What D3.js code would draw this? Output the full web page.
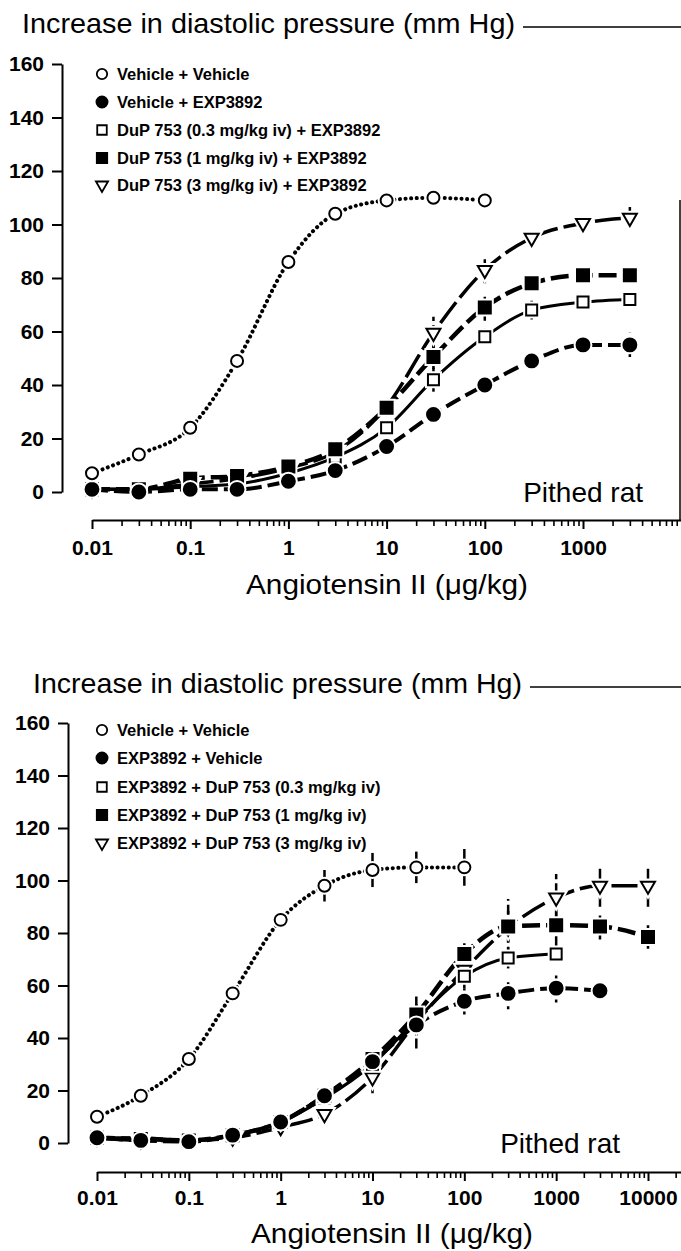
<!DOCTYPE html>
<html>
<head>
<meta charset="utf-8">
<script src="https://cdn.jsdelivr.net/npm/d3@7"></script>
<style>
  body { margin: 0; background: #fff; }
  svg { display: block; }
</style>
</head>
<body>
<svg id="chart" width="681" height="1251"></svg>
<script>
// === DATA ===
const yTicks = [0, 20, 40, 60, 80, 100, 120, 140, 160];

// top panel: DuP 753 (or vehicle) first, then EXP3892
const topDoses = [0.01, 0.03, 0.1, 0.3, 1, 3, 10, 30, 100, 300, 1000, 3000];
const topXTicks = [0.01, 0.1, 1, 10, 100, 1000];
const topXTickLabels = ["0.01", "0.1", "1", "10", "100", "1000"];
const topLegend = [
  "Vehicle + Vehicle",
  "Vehicle + EXP3892",
  "DuP 753 (0.3 mg/kg iv) + EXP3892",
  "DuP 753 (1 mg/kg iv) + EXP3892",
  "DuP 753 (3 mg/kg iv) + EXP3892"
];
const topVehVeh    = [7, 14, 24, 49, 86, 104, 109, 110, 109];
const topVehVehErr = [0.5, 1, 2.5, 2.5, 3, 2, 1, 1, 1];
const topVehExp    = [1, 0, 1, 1, 4, 8, 17, 29, 40, 49, 55, 55];
const topVehExpErr = [0, 0, 0, 0, 0, 1, 1.5, 1.5, 2, 2, 1.5, 4.5];
const topDup03     = [1, 1, 2, 3, 7, 13, 24, 42, 58, 68, 71, 72];
const topDup03Err  = [0, 0, 0, 0, 0, 1, 2, 4.5, 3, 3.5, 2.5, 3];
const topDup1      = [1, 1, 5, 6, 9.5, 16, 31.5, 50.5, 69, 78, 81, 81];
const topDup1Err   = [0, 0, 2, 1, 1, 2, 2, 4.5, 5, 3, 2, 2];
const topDup3      = [1, 1, 3, 5, 9, 15, 32, 59.5, 83, 95, 100.5, 102.5];
const topDup3Err   = [0, 0, 0, 0, 0, 1, 2, 6, 5, 2, 2, 4];

// bottom panel: EXP3892 (or vehicle) first, then DuP 753
const botDoses = [0.01, 0.03, 0.1, 0.3, 1, 3, 10, 30, 100, 300, 1000, 3000, 10000];
const botXTicks = [0.01, 0.1, 1, 10, 100, 1000, 10000];
const botXTickLabels = ["0.01", "0.1", "1", "10", "100", "1000", "10000"];
const botLegend = [
  "Vehicle + Vehicle",
  "EXP3892 + Vehicle",
  "EXP3892 + DuP 753 (0.3 mg/kg iv)",
  "EXP3892 + DuP 753 (1 mg/kg iv)",
  "EXP3892 + DuP 753 (3 mg/kg iv)"
];
const botVehVeh    = [10, 18, 32, 57, 85, 98, 104, 105, 105];
const botVehVehErr = [1, 1, 1.5, 2, 3, 6, 6.5, 6, 7];
const botExpVeh    = [2, 1, 0.5, 3, 8, 18, 31, 45, 54, 57, 59, 58];
const botExpVehErr = [0, 0, 0, 0.5, 1, 2, 3, 4, 5, 6, 5.5, 0];
const botDup03     = [2, 2, 1, 3, 8, 17, 30, 47, 63.5, 70.5, 72];
const botDup03Err  = [0, 0, 0, 0, 0, 1, 2, 4, 3, 4, 2];
const botDup1      = [2, 1.5, 1, 3, 8, 18, 32, 49, 72, 82.5, 83, 82.5, 78.5];
const botDup1Err   = [0, 0, 0, 0, 0, 1, 2, 4, 5, 6, 8, 5, 4.5];
const botDup3      = [2, 1, 1, 2, 6, 11, 25, 46, 66, 82, 93.5, 98, 98];
const botDup3Err   = [0, 0, 0, 0, 0, 2, 6, 10, 7, 11, 9, 8, 8];

// === STYLES ===
const font = "'Liberation Sans', Arial, Helvetica, sans-serif";
const markerStyle = {
  oc:  { type: d3.symbolCircle,   size: 113, fill: "#fff", rot: 0 },
  fc:  { type: d3.symbolCircle,   size: 130, fill: "#000", rot: 0 },
  os:  { type: d3.symbolSquare,   size: 121, fill: "#fff", rot: 0 },
  fs:  { type: d3.symbolSquare,   size: 144, fill: "#000", rot: 0 },
  tri: { type: d3.symbolTriangle, size: 85,  fill: "#fff", rot: 180 }
};
const lineStyle = {
  oc:  { w: 4,   dash: "0.1 5.5", cap: "round", errDash: null },
  fc:  { w: 4,   dash: "16 6",  cap: "butt",  errDash: "3 5" },
  os:  { w: 3,   dash: null,    cap: "butt",  errDash: null },
  fs:  { w: 4.5, dash: "18 6",  cap: "butt",  errDash: "10 4" },
  tri: { w: 3.5, dash: "26 6",  cap: "butt",  errDash: "10 4" }
};
const legendKinds = ["oc", "fc", "os", "fs", "tri"];

const svg = d3.select("#chart");

function drawPanel(p) {
  const g = svg.append("g");
  const x = d3.scaleLog().domain([0.01, p.xRef]).range([p.x0, p.x1]);
  const y = d3.scaleLinear().domain([0, 160]).range([p.y0, p.y1]);

  // title with trailing rule
  g.append("text")
    .attr("x", p.titleX).attr("y", p.titleY)
    .attr("font-family", font).attr("font-size", 28)
    .attr("textLength", p.titleLen).attr("lengthAdjust", "spacingAndGlyphs")
    .text("Increase in diastolic pressure (mm Hg)");
  g.append("line")
    .attr("x1", p.titleX + p.titleLen + 8).attr("x2", 681)
    .attr("y1", p.titleY - 6).attr("y2", p.titleY - 6)
    .attr("stroke", "#000").attr("stroke-width", 1.5);

  // y axis
  const yAxis = g.append("g")
    .attr("transform", `translate(${p.yAxisX},0)`)
    .call(d3.axisLeft(y).tickValues(yTicks).tickSize(10).tickSizeOuter(0).tickPadding(8));
  yAxis.select(".domain").attr("stroke-width", 2);
  yAxis.selectAll(".tick line").attr("stroke-width", 2);
  yAxis.selectAll(".tick text")
    .attr("font-family", font).attr("font-size", 21).attr("font-weight", "bold").attr("fill", "#000");

  // x axis (log, minor ticks), running off the right edge
  const xa = x.copy().domain([0.01, x.invert(681)]).range([p.x0, 681]);
  const ticks = [];
  for (let e = -2; e <= 4; e++) {
    for (let k = 1; k <= 9; k++) {
      const v = k * Math.pow(10, e);
      if (xa(v) <= 679) ticks.push(v);
    }
  }
  const majorIndex = d => p.xTicks.findIndex(m => Math.abs(Math.log10(m) - Math.log10(d)) < 1e-9);
  const xAxis = g.append("g")
    .attr("transform", `translate(0,${p.xAxisY})`)
    .call(d3.axisBottom(xa).tickValues(ticks).tickSize(6).tickSizeOuter(0)
      .tickFormat(d => { const i = majorIndex(d); return i >= 0 ? p.xTickLabels[i] : ""; }));
  xAxis.select(".domain").attr("stroke-width", 2);
  xAxis.selectAll(".tick line").attr("stroke-width", 1.6)
    .filter(d => majorIndex(d) >= 0).attr("y2", 9).attr("stroke-width", 2);
  xAxis.selectAll(".tick text")
    .attr("font-family", font).attr("font-size", 21).attr("font-weight", "bold").attr("fill", "#000")
    .attr("y", p.xLabelY).attr("dy", 0);

  g.append("text")
    .attr("x", p.xTitleX).attr("y", p.xTitleY).attr("text-anchor", "middle")
    .attr("font-family", font).attr("font-size", 28)
    .attr("textLength", p.xTitleLen).attr("lengthAdjust", "spacingAndGlyphs")
    .text("Angiotensin II (μg/kg)");

  g.append("text")
    .attr("x", p.ratX).attr("y", p.ratY).attr("text-anchor", "end")
    .attr("font-family", font).attr("font-size", 28)
    .text("Pithed rat");

  // legend
  const leg = g.append("g");
  p.legend.forEach((label, i) => {
    const ms = markerStyle[legendKinds[i]];
    leg.append("path")
      .attr("transform", `translate(102,${p.legendY[i]}) rotate(${ms.rot})`)
      .attr("d", d3.symbol().type(ms.type).size(ms.size * 0.75)())
      .attr("fill", ms.fill).attr("stroke", "#000").attr("stroke-width", 1.8);
    leg.append("text")
      .attr("x", 117).attr("y", p.legendY[i]).attr("dy", "0.36em")
      .attr("font-family", font).attr("font-size", 16.5).attr("font-weight", "bold")
      .text(label);
  });

  const line = d3.line().x(d => x(d.dose)).y(d => y(d.v)).curve(d3.curveMonotoneX);

  const series = p.series.map(s => ({
    kind: s.kind,
    pts: s.values.map((v, i) => ({ dose: p.doses[i], v: v, e: s.err[i] }))
  }));

  // curves and error bars first
  series.forEach(s => {
    const ls = lineStyle[s.kind];
    g.append("path").datum(s.pts)
      .attr("d", line).attr("fill", "none").attr("stroke", "#000")
      .attr("stroke-width", ls.w).attr("stroke-linecap", ls.cap)
      .attr("stroke-dasharray", ls.dash);
    g.append("g").selectAll("line")
      .data(s.pts.filter(d => d.e > 0))
      .join("line")
      .attr("x1", d => x(d.dose)).attr("x2", d => x(d.dose))
      .attr("y1", d => y(d.v - d.e)).attr("y2", d => y(d.v + d.e))
      .attr("stroke", "#000").attr("stroke-width", 2.5)
      .attr("stroke-dasharray", ls.errDash);
  });

  // markers with a white halo
  series.forEach(s => {
    const ms = markerStyle[s.kind];
    const sym = d3.symbol().type(ms.type).size(ms.size);
    const mg = g.append("g");
    mg.selectAll("path.halo").data(s.pts).join("path").attr("class", "halo")
      .attr("transform", d => `translate(${x(d.dose)},${y(d.v)}) rotate(${ms.rot})`)
      .attr("d", sym).attr("fill", "#fff").attr("stroke", "#fff").attr("stroke-width", 6);
    mg.selectAll("path.mk").data(s.pts).join("path").attr("class", "mk")
      .attr("transform", d => `translate(${x(d.dose)},${y(d.v)}) rotate(${ms.rot})`)
      .attr("d", sym).attr("fill", ms.fill).attr("stroke", "#000").attr("stroke-width", 2);
  });
}

drawPanel({
  x0: 92, x1: 583, xRef: 1000, y0: 492, y1: 64, yAxisX: 62, xAxisY: 520,
  xTicks: topXTicks, xTickLabels: topXTickLabels, xLabelY: 35,
  titleX: 22, titleY: 33, titleLen: 493,
  xTitleX: 387, xTitleY: 594, xTitleLen: 282,
  ratX: 643, ratY: 502,
  legend: topLegend, legendY: [74, 102, 130, 158, 185],
  doses: topDoses,
  series: [
    { kind: "tri", values: topDup3,   err: topDup3Err },
    { kind: "os",  values: topDup03,  err: topDup03Err },
    { kind: "fs",  values: topDup1,   err: topDup1Err },
    { kind: "fc",  values: topVehExp, err: topVehExpErr },
    { kind: "oc",  values: topVehVeh, err: topVehVehErr }
  ]
});

drawPanel({
  x0: 97, x1: 648, xRef: 10000, y0: 1143, y1: 723, yAxisX: 68, xAxisY: 1172,
  xTicks: botXTicks, xTickLabels: botXTickLabels, xLabelY: 33,
  titleX: 33, titleY: 693, titleLen: 489,
  xTitleX: 392, xTitleY: 1243, xTitleLen: 282,
  ratX: 620, ratY: 1153,
  legend: botLegend, legendY: [730, 758, 787, 815, 843],
  doses: botDoses,
  series: [
    { kind: "tri", values: botDup3,   err: botDup3Err },
    { kind: "os",  values: botDup03,  err: botDup03Err },
    { kind: "fs",  values: botDup1,   err: botDup1Err },
    { kind: "fc",  values: botExpVeh, err: botExpVehErr },
    { kind: "oc",  values: botVehVeh, err: botVehVehErr }
  ]
});

// right-hand edge rule of the scanned top panel
svg.append("line")
  .attr("x1", 680).attr("x2", 680).attr("y1", 200).attr("y2", 520)
  .attr("stroke", "#000").attr("stroke-width", 1.5);
</script>
</body>
</html>
